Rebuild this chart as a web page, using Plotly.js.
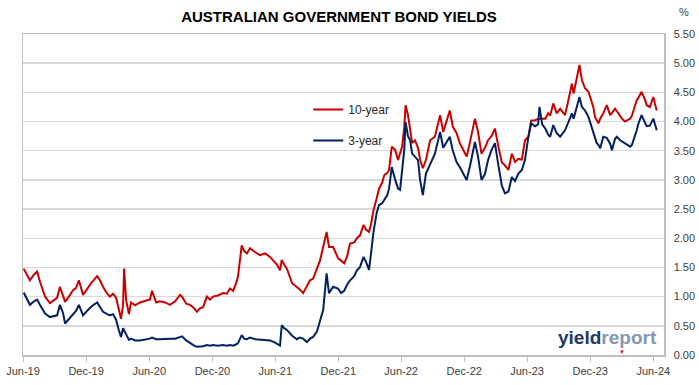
<!DOCTYPE html>
<html>
<head>
<meta charset="utf-8">
<script src="https://cdn.plot.ly/plotly-3.0.1.min.js"></script>
<style>
html,body{margin:0;padding:0;background:#fff;}
#chart{width:699px;height:385px;}
</style>
</head>
<body>
<div id="chart"></div>
<script>
const dates = [
"2019-06-03","2019-06-21","2019-07-03","2019-07-12","2019-07-20","2019-08-04","2019-08-18","2019-08-30","2019-09-08","2019-09-16",
"2019-09-25","2019-10-01","2019-10-12","2019-10-24","2019-11-02","2019-11-10","2019-11-22","2019-12-06","2019-12-18","2020-01-02",
"2020-01-10","2020-01-19","2020-01-31","2020-02-08","2020-02-17","2020-02-26","2020-03-05","2020-03-11","2020-03-17","2020-03-20",
"2020-03-26","2020-04-03","2020-04-09","2020-04-21","2020-05-05","2020-05-20","2020-06-03","2020-06-09","2020-06-21","2020-07-02",
"2020-07-17","2020-07-31","2020-08-15","2020-08-29","2020-09-04","2020-09-16","2020-09-27","2020-10-09","2020-10-17","2020-10-26",
"2020-11-04","2020-11-15","2020-11-24","2020-12-03","2020-12-17","2021-01-01","2021-01-12","2021-01-21","2021-01-30","2021-02-07",
"2021-02-13","2021-02-24","2021-03-03","2021-03-11","2021-03-20","2021-04-04","2021-04-18","2021-05-03","2021-05-17","2021-05-29",
"2021-06-06","2021-06-15","2021-06-20","2021-06-27","2021-07-05","2021-07-20","2021-08-03","2021-08-12","2021-08-21","2021-09-01",
"2021-09-10","2021-09-19","2021-09-30","2021-10-09","2021-10-18","2021-10-28","2021-11-04","2021-11-16","2021-11-30","2021-12-09",
"2021-12-18","2021-12-26","2022-01-04","2022-01-16","2022-01-24","2022-02-02","2022-02-12","2022-02-19","2022-02-28","2022-03-06",
"2022-03-13","2022-03-22","2022-03-29","2022-04-07","2022-04-13","2022-04-22","2022-04-27","2022-05-05","2022-05-15","2022-05-23",
"2022-05-29","2022-06-04","2022-06-10","2022-06-14","2022-06-21","2022-06-27","2022-07-03","2022-07-11","2022-07-20","2022-07-26",
"2022-08-03","2022-08-12","2022-08-24","2022-09-07","2022-09-22","2022-10-01","2022-10-11","2022-10-20","2022-10-29","2022-11-09",
"2022-11-18","2022-11-28","2022-12-08","2022-12-17","2023-01-01","2023-01-10","2023-01-20","2023-01-30","2023-02-08","2023-02-18",
"2023-02-28","2023-03-10","2023-03-20","2023-03-29","2023-04-08","2023-04-18","2023-04-27","2023-05-07","2023-05-17","2023-05-26",
"2023-06-05","2023-06-13","2023-06-24","2023-07-03","2023-07-07","2023-07-15","2023-07-24","2023-08-01","2023-08-07","2023-08-16",
"2023-08-26","2023-09-05","2023-09-15","2023-09-19","2023-09-29","2023-10-09","2023-10-14","2023-10-23","2023-10-31","2023-11-07",
"2023-11-16","2023-11-26","2023-12-06","2023-12-10","2023-12-15","2023-12-20","2023-12-25","2023-12-30","2024-01-08","2024-01-18",
"2024-01-28","2024-02-02","2024-02-11","2024-02-16","2024-02-26","2024-03-02","2024-03-11","2024-03-16","2024-03-26","2024-03-31",
"2024-04-09","2024-04-14","2024-04-18","2024-04-28","2024-05-08","2024-05-13","2024-05-22","2024-06-01","2024-06-06","2024-06-11"
];
const yield10 = [
1.48,1.28,1.38,1.43,1.26,1.00,0.89,0.94,0.98,1.17,
1.02,0.91,1.00,1.11,1.15,1.28,1.03,1.16,1.25,1.35,
1.28,1.17,1.05,1.00,1.05,0.98,0.75,0.62,0.85,1.48,
0.94,0.70,0.90,0.85,0.90,0.92,0.95,1.10,0.90,0.92,
0.90,0.86,0.92,1.03,1.00,0.88,0.86,0.80,0.74,0.80,
0.82,1.00,0.95,1.00,1.02,1.06,1.05,1.14,1.10,1.22,
1.34,1.88,1.78,1.74,1.83,1.76,1.71,1.74,1.68,1.60,
1.55,1.45,1.63,1.55,1.48,1.23,1.17,1.12,1.06,1.18,
1.28,1.31,1.50,1.62,1.85,2.11,1.85,1.85,1.66,1.62,
1.57,1.68,1.91,1.93,2.00,2.05,2.23,2.15,2.11,2.25,
2.48,2.68,2.85,2.95,3.08,3.12,3.17,3.57,3.51,3.34,
3.45,3.57,3.90,4.28,4.11,3.85,3.63,3.68,3.55,3.35,
3.20,3.34,3.68,3.74,4.11,3.82,4.02,4.19,3.91,3.80,
3.63,3.51,3.40,3.63,4.05,3.82,3.45,3.55,3.68,3.75,
3.88,3.57,3.30,3.25,3.17,3.45,3.31,3.36,3.35,3.68,
3.74,4.02,4.02,4.05,4.05,4.05,4.05,4.14,4.10,4.31,
4.14,4.22,4.15,4.11,4.37,4.65,4.48,4.77,4.97,4.71,
4.57,4.51,4.31,4.25,4.08,4.02,3.97,4.05,4.14,4.28,
4.11,4.15,4.22,4.18,4.08,4.05,4.00,4.02,4.05,4.10,
4.28,4.37,4.40,4.51,4.37,4.28,4.25,4.42,4.30,4.19
];
const yield3 = [
1.07,0.86,0.92,0.95,0.86,0.71,0.65,0.66,0.68,0.86,
0.72,0.54,0.62,0.71,0.76,0.86,0.68,0.77,0.84,0.90,
0.82,0.74,0.70,0.68,0.70,0.60,0.42,0.31,0.46,0.42,
0.37,0.26,0.28,0.25,0.25,0.26,0.28,0.30,0.27,0.27,
0.28,0.28,0.28,0.30,0.32,0.25,0.20,0.16,0.14,0.14,
0.15,0.17,0.16,0.17,0.16,0.17,0.16,0.17,0.16,0.18,
0.20,0.34,0.28,0.27,0.30,0.27,0.26,0.25,0.25,0.22,
0.19,0.16,0.51,0.46,0.43,0.33,0.27,0.30,0.28,0.22,
0.28,0.31,0.40,0.60,0.77,1.40,1.06,1.17,1.14,1.06,
1.10,1.20,1.28,1.35,1.45,1.51,1.68,1.60,1.46,1.75,
2.11,2.43,2.57,2.60,2.65,2.74,2.85,3.22,3.00,2.85,
2.83,3.20,3.51,3.99,3.75,3.68,3.45,3.40,3.34,3.00,
2.74,3.11,3.28,3.45,3.82,3.55,3.65,3.74,3.50,3.30,
3.22,3.10,3.00,3.22,3.65,3.40,3.00,3.10,3.34,3.51,
3.63,3.25,2.90,2.77,2.80,3.05,2.98,3.11,3.17,3.34,
3.74,3.97,3.92,3.95,4.25,3.95,3.88,3.78,3.74,3.94,
3.80,3.74,3.82,3.85,3.99,4.14,4.05,4.25,4.42,4.25,
4.19,4.08,3.90,3.82,3.75,3.63,3.60,3.54,3.74,3.72,
3.62,3.51,3.70,3.74,3.68,3.66,3.62,3.60,3.57,3.60,
3.75,3.85,3.95,4.11,3.98,3.92,3.93,4.05,3.95,3.85
];
const tickDates = ["2019-06-01","2019-12-01","2020-06-01","2020-12-01","2021-06-01","2021-12-01","2022-06-01","2022-12-01","2023-06-01","2023-12-01","2024-06-01"];
const tickLabels = ["Jun-19","Dec-19","Jun-20","Dec-20","Jun-21","Dec-21","Jun-22","Dec-22","Jun-23","Dec-23","Jun-24"];
const seriesNames = ["10-year","3-year"];

const FONT = "Liberation Sans, Arial, sans-serif";

const traces = [
  {x: dates, y: yield10, name: seriesNames[0], type: "scatter", mode: "lines",
   line: {color: "#C80000", width: 2}, legendgroup: "a"},
  {x: dates, y: yield3, name: seriesNames[1], type: "scatter", mode: "lines",
   line: {color: "#002060", width: 2}, legendgroup: "b"}
];

const layout = {
  width: 699, height: 385,
  margin: {l: 23, r: 35, t: 34, b: 30},
  paper_bgcolor: "#ffffff", plot_bgcolor: "#ffffff",
  title: {text: "<b>AUSTRALIAN GOVERNMENT BOND YIELDS</b>", x: 339/699, xref: "container", xanchor: "center",
          y: 1 - 17/385, yref: "container", yanchor: "middle",
          font: {family: FONT, size: 15, color: "#000000"}},
  showlegend: true,
  legend: {x: 0.445, y: 0.81, xanchor: "left", yanchor: "top", bgcolor: "rgba(0,0,0,0)",
           font: {family: FONT, size: 12, color: "#262626"}, tracegroupgap: 12, traceorder: "grouped"},
  xaxis: {type: "date", range: ["2019-06-01", "2024-07-02"],
          tickvals: tickDates, ticktext: tickLabels, tickangle: 0,
          ticks: "outside", ticklen: 5, tickcolor: "#bfbfbf", tickwidth: 1,
          showgrid: false, showline: true, linecolor: "#bfbfbf", linewidth: 1.5, mirror: true,
          zeroline: false, tickfont: {family: FONT, size: 11, color: "#404040"}},
  yaxis: {side: "right", range: [0, 5.5], dtick: 0.5, tick0: 0, tickformat: ".2f",
          showgrid: true, gridcolor: "#d9d9d9", gridwidth: 1.5,
          showline: true, linecolor: "#bfbfbf", linewidth: 1.5, mirror: true,
          zeroline: false, ticks: "outside", ticklen: 6, tickcolor: "rgba(0,0,0,0)",
          tickfont: {family: FONT, size: 11, color: "#404040"}},
  annotations: [
    {text: "%", xref: "paper", yref: "paper", x: (684-23)/641, y: (355-12)/321,
     xanchor: "center", yanchor: "middle", showarrow: false,
     font: {family: FONT, size: 11, color: "#404040"}},
    {text: "<b><span style='color:#1f3864'>yield</span><span style='color:#8496b0'>report</span></b>",
     xref: "paper", yref: "paper", x: (607-23)/641, y: (355-337)/321,
     xanchor: "center", yanchor: "middle", showarrow: false,
     font: {family: FONT, size: 19}},
    {text: "▼", xref: "paper", yref: "paper", x: (622-23)/641, y: (355-352)/321,
     xanchor: "center", yanchor: "middle", showarrow: false,
     font: {family: FONT, size: 6, color: "#e00000"}}
  ]
};

Plotly.newPlot("chart", traces, layout, {staticPlot: true, displayModeBar: false});
</script>
</body>
</html>
